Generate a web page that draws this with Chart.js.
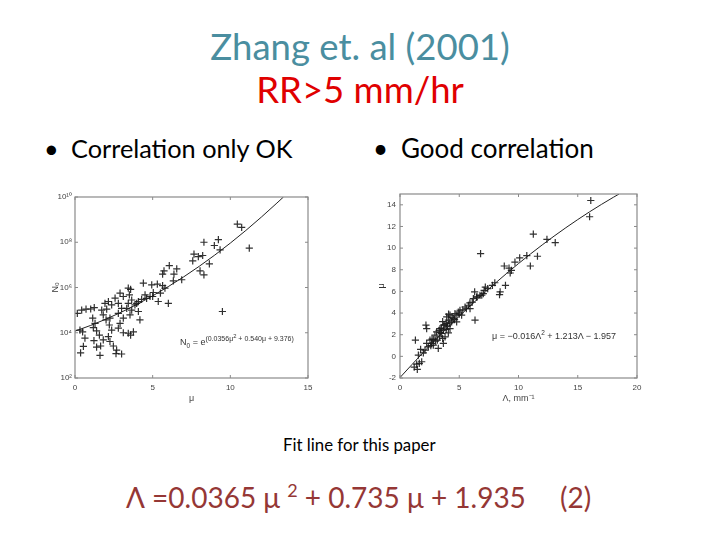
<!DOCTYPE html>
<html><head><meta charset="utf-8">
<script src="https://cdn.jsdelivr.net/npm/chart.js@4.4.0/dist/chart.umd.min.js"></script>
<style>
html,body{margin:0;padding:0;background:#fff;}
#slide{position:relative;width:720px;height:540px;overflow:hidden;font-family:Lato,"Open Sans",sans-serif;}
.t{position:absolute;white-space:nowrap;}
canvas{position:absolute;}
.small{font-family:"Liberation Sans",Arial,sans-serif;color:#333;font-size:9px;}
.sup2{font-size:18px;position:relative;top:-11px;line-height:0;vertical-align:baseline;}
</style></head><body>
<div id="slide">
  <div class="t" style="left:0;width:720px;text-align:center;top:24px;font-size:36.5px;line-height:44px;color:#4a8ea0;">Zhang et. al (2001)</div>
  <div class="t" style="left:0;width:720px;text-align:center;top:67px;font-size:36.5px;line-height:44px;color:#e00000;">RR&gt;5 mm/hr</div>
  <div class="t" style="left:44px;top:133px;font-size:25.3px;line-height:30px;color:#000;"><span style="display:inline-block;width:27px;">•</span>Correlation only OK</div>
  <div class="t" style="left:373px;top:133px;font-size:26px;line-height:30px;color:#000;"><span style="display:inline-block;width:28px;">•</span>Good correlation</div>
  <canvas id="c1" width="280" height="225" style="left:40px;top:185px;"></canvas>
  <canvas id="c2" width="290" height="225" style="left:360px;top:185px;"></canvas>
  <div class="t small" style="left:180px;top:333px;">N<sub style="font-size:6.5px">0</sub> = e<sup style="font-size:7px">(0.0356μ<sup>2</sup> + 0.540μ + 9.376)</sup></div>
  <div class="t small" style="left:492px;top:329px;">μ = −0.016Λ<sup style="font-size:6.5px">2</sup> + 1.213Λ − 1.957</div>
  <div class="t" style="left:283px;top:435px;font-size:16.8px;line-height:20px;color:#000;">Fit line for this paper</div>
  <div class="t" style="left:126px;top:480px;font-size:28px;line-height:34px;color:#953735;">Λ =0.0365 μ <span class="sup2">2</span> + 0.735 μ + 1.935</div>
  <div class="t" style="left:560px;top:480px;font-size:28px;line-height:34px;color:#953735;">(2)</div>
</div>
<script>
// ---- Left panel: N0 vs mu ----
const leftMu = [0.15,0.43,0.71,1.01,1.24,0.32,0.49,0.64,0.54,0.36,1.14,1.29,1.18,1.39,1.57,1.22,1.39,1.61,1.65,1.82,
  2.0,1.82,1.72,1.93,2.15,2.36,2.04,2.25,2.21,2.36,2.15,2.25,2.47,2.68,2.64,3.0,2.58,2.79,2.9,3.11,
  3.0,2.79,3.11,2.9,2.79,3.11,3.43,3.58,3.5,3.65,3.43,3.33,3.65,3.54,3.43,3.58,3.76,3.86,3.97,4.08,
  4.18,4.08,4.29,4.4,4.51,4.61,4.94,5.04,4.83,
  10.45,10.73,11.22,9.23,8.97,8.3,9.34,7.66,7.58,8.22,7.94,8.65,8.05,8.3,9.49,6.55,6.37,6.07,5.73,6.33,
  5.64,6.87,5.3,5.64,5.79,5.36,5.0,6.01,5.5];
const leftN0 = [7.2e4,1.0e5,1.1e5,1.12e5,1.3e5,1.3e4,1.1e4,5.8e3,2.5e3,1.3e3,4.4e4,2.6e4,1.7e4,1.2e4,7.9e3,4.5e3,2.3e3,1.0e3,2.6e3,4.8e3,
  3.7e4,6.2e4,1.0e5,2.0e5,2.4e5,1.7e5,1.1e5,4.4e4,2.2e4,1.3e4,6.8e3,4.1e3,2.6e3,1.7e3,1.2e3,1.15e3,3.4e5,2.0e5,5.6e5,4.0e5,
  1.2e5,7.2e4,4.4e4,2.6e4,1.6e4,1.0e4,9.3e5,8.3e5,4.7e5,2.8e5,2.0e5,1.2e5,1.0e5,6.2e4,9.5e3,7.9e3,1.1e4,1.7e5,2.0e5,8.7e4,
  3.7e4,2.4e5,3.0e5,1.55e6,4.7e5,3.3e5,1.3e6,6.0e5,4.0e5,
  6.3e8,4.5e8,5.5e7,1.3e8,7.2e7,1.0e8,4.6e7,3.0e7,1.5e7,2.6e7,2.3e7,1.1e7,5.4e6,3.6e6,8.7e4,6.6e6,3.9e6,9.3e6,5.4e6,1.95e6,
  3.9e6,2.2e6,1.4e6,1.2e6,9.3e5,2.4e5,4.0e5,2.0e5,5.6e5];
const leftFitMu = [0,1,2,3,4,5,6,7,8,9,10,11,12,13,13.42];
const leftFitN0 = [1.18e4,2.1e4,4.01e4,8.22e4,1.81e5,4.28e5,1.09e6,2.96e6,8.67e6,2.72e7,9.19e7,3.33e8,1.30e9,5.41e9,1.0e10];
const leftXTicks = [0,5,10,15];
const leftYTickValues = [1e2,1e4,1e6,1e8,1e10];
const leftYTickLabels = ['10²','10⁴','10⁶','10⁸','10¹⁰'];

// ---- Right panel: mu vs Lambda ----
const rightLambda = [16.1,16.0,11.25,13.1,12.4,6.8,11.6,10.7,10.1,11.0,9.7,9.2,8.8,9.3,9.4,8.9,8.45,8.4,8.0,7.8,
  7.2,7.1,7.4,6.9,6.3,6.5,6.1,5.9,
  1.46,1.41,1.83,1.55,1.97,1.74,2.11,1.3,2.25,2.39,2.53,2.67,2.81,2.19,2.25,2.95,3.09,3.32,3.15,3.52,3.38,3.66,
  3.6,3.8,3.94,4.08,4.22,3.94,4.36,4.5,4.64,4.78,4.92,5.06,5.2,5.49,5.77,5.91,6.33,6.47,6.75,7.03,
  6.19,3.66,2.81,3.23,3.8,4.08,4.22,1.2,1.63,
  3.4,3.5,3.7,3.9,4.0,4.2,4.4,4.6,4.8,5.0,3.3,3.6,4.1,3.0,2.7,2.6,5.3,5.6];
const rightMu = [14.4,12.9,11.3,10.5,10.8,9.5,9.25,9.3,9.1,8.35,8.7,8.15,8.35,7.7,7.95,6.55,5.95,5.7,6.8,6.55,
  6.4,6.1,6.25,5.65,5.95,5.5,5.0,4.95,
  -1.2,-0.71,-0.5,0.12,0.33,0.64,0.58,1.5,1.19,0.88,1.5,1.19,1.56,2.88,2.57,1.96,2.26,1.8,1.5,2.11,2.57,2.42,
  1.65,2.88,3.03,3.34,3.8,3.64,3.18,3.49,3.95,3.18,4.1,4.26,3.8,4.56,4.72,4.41,3.34,5.48,5.64,5.79,
  5.33,1.19,1.04,0.73,1.8,2.17,2.57,-1.0,-0.65,
  2.2,2.6,2.9,2.5,2.8,3.1,3.6,3.4,3.8,3.9,2.4,3.2,3.9,1.4,1.6,1.0,4.3,4.4];
const rightFitLambda = [0,2,4,6,8,10,12,14,16,18,18.49];
const rightFitMu = [-1.957,0.405,2.639,4.745,6.723,8.573,10.295,11.889,13.355,14.693,15.0];
const rightXTicks = [0,5,10,15,20];
const rightYTicks = [-2,0,2,4,6,8,10,12,14];

const framePlugin = {
  id:'frame',
  afterDatasetsDraw(chart){
    const {ctx, chartArea:a, scales} = chart;
    ctx.save();
    ctx.strokeStyle = '#8a8a8a';
    ctx.lineWidth = 1.2;
    ctx.strokeRect(a.left, a.top, a.right-a.left, a.bottom-a.top);
    ctx.lineWidth = 1;
    ctx.beginPath();
    scales.x.ticks.forEach(t=>{
      const px = scales.x.getPixelForValue(t.value);
      ctx.moveTo(px, a.bottom); ctx.lineTo(px, a.bottom-3);
      ctx.moveTo(px, a.top); ctx.lineTo(px, a.top+3);
    });
    scales.y.ticks.forEach(t=>{
      const py = scales.y.getPixelForValue(t.value);
      ctx.moveTo(a.left, py); ctx.lineTo(a.left+3, py);
      ctx.moveTo(a.right, py); ctx.lineTo(a.right-3, py);
    });
    ctx.stroke();
    ctx.restore();
  }
};

const tickFont = {family:'"Liberation Sans", Arial, sans-serif', size:8};
const titleFont = {family:'"Liberation Sans", Arial, sans-serif', size:9};
const pointStyleOpts = {pointStyle:'cross', pointRadius:3.6, borderColor:'rgba(25,25,25,0.9)', borderWidth:1.2, showLine:false};
const lineOpts = {borderColor:'#222', borderWidth:1, pointRadius:0, showLine:true, cubicInterpolationMode:'monotone', fill:false};
const noGrid = {display:false, drawTicks:false};

new Chart(document.getElementById('c1'), {
  type:'scatter',
  data:{datasets:[
    Object.assign({label:'data', data:leftMu.map((m,i)=>({x:m,y:leftN0[i]}))}, pointStyleOpts),
    Object.assign({label:'fit', data:leftFitMu.map((m,i)=>({x:m,y:leftFitN0[i]}))}, lineOpts)
  ]},
  options:{
    responsive:false, animation:false, devicePixelRatio:1,
    layout:{padding:{top:12,right:12,left:10,bottom:6}},
    plugins:{legend:{display:false}, tooltip:{enabled:false}},
    scales:{
      x:{type:'linear', min:0, max:15,
        afterBuildTicks(s){ s.ticks = leftXTicks.map(v=>({value:v})); },
        afterFit(s){ s.height = 26; },
        ticks:{font:tickFont, color:'#444', maxRotation:0, padding:5},
        grid:noGrid, border:{display:false},
        title:{display:true, text:'μ', font:titleFont, color:'#444', padding:{top:0,bottom:0}}},
      y:{type:'logarithmic', min:1e2, max:1e10,
        afterBuildTicks(s){ s.ticks = leftYTickValues.map(v=>({value:v})); },
        afterFit(s){ s.width = 25; },
        ticks:{font:tickFont, color:'#444', padding:3, callback:(v,i)=>leftYTickLabels[i]},
        grid:noGrid, border:{display:false},
        title:{display:true, text:'N₀', font:titleFont, color:'#333', padding:{top:0,bottom:0}}}
    }
  },
  plugins:[framePlugin]
});

new Chart(document.getElementById('c2'), {
  type:'scatter',
  data:{datasets:[
    Object.assign({label:'data', data:rightLambda.map((l,i)=>({x:l,y:rightMu[i]}))}, pointStyleOpts),
    Object.assign({label:'fit', data:rightFitLambda.map((l,i)=>({x:l,y:rightFitMu[i]}))}, lineOpts)
  ]},
  options:{
    responsive:false, animation:false, devicePixelRatio:1,
    layout:{padding:{top:9,right:13,left:16,bottom:6}},
    plugins:{legend:{display:false}, tooltip:{enabled:false}},
    scales:{
      x:{type:'linear', min:0, max:20,
        afterBuildTicks(s){ s.ticks = rightXTicks.map(v=>({value:v})); },
        afterFit(s){ s.height = 26; },
        ticks:{font:tickFont, color:'#444', maxRotation:0, padding:5},
        grid:noGrid, border:{display:false},
        title:{display:true, text:'Λ, mm⁻¹', font:titleFont, color:'#444', padding:{top:0,bottom:0}}},
      y:{type:'linear', min:-2, max:15,
        afterBuildTicks(s){ s.ticks = rightYTicks.map(v=>({value:v})); },
        afterFit(s){ s.width = 24; },
        ticks:{font:tickFont, color:'#444', padding:4},
        grid:noGrid, border:{display:false},
        title:{display:true, text:'μ', font:titleFont, color:'#333', padding:{top:0,bottom:0}}}
    }
  },
  plugins:[framePlugin]
});
</script>
</body></html>
